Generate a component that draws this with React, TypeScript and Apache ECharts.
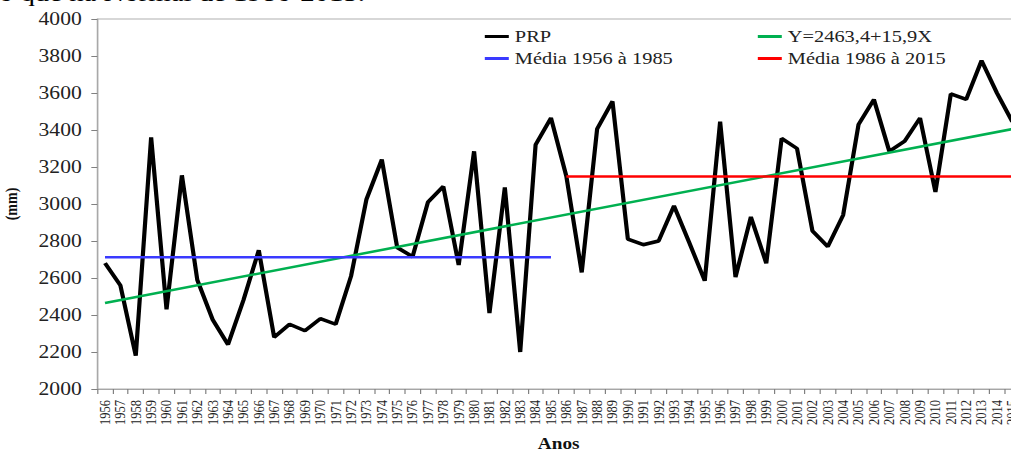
import React, { useEffect, useRef } from "react";
import * as echarts from "echarts";

// Categories (years)
const years: string[] = [
  "1956", "1957", "1958", "1959", "1960", "1961", "1962", "1963", "1964", "1965",
  "1966", "1967", "1968", "1969", "1970", "1971", "1972", "1973", "1974", "1975",
  "1976", "1977", "1978", "1979", "1980", "1981", "1982", "1983", "1984", "1985",
  "1986", "1987", "1988", "1989", "1990", "1991", "1992", "1993", "1994", "1995",
  "1996", "1997", "1998", "1999", "2000", "2001", "2002", "2003", "2004", "2005",
  "2006", "2007", "2008", "2009", "2010", "2011", "2012", "2013", "2014", "2015",
];

// Annual precipitation PRP (mm)
const prp: number[] = [
  2680, 2560, 2180, 3360, 2430, 3155, 2590, 2375, 2240, 2480,
  2750, 2280, 2350, 2315, 2380, 2350, 2610, 3025, 3240, 2765,
  2715, 3010, 3095, 2670, 3285, 2410, 3090, 2200, 3320, 3465,
  3150, 2630, 3405, 3555, 2810, 2780, 2800, 2990, 2790, 2585,
  3445, 2605, 2930, 2680, 3355, 3300, 2855, 2770, 2940, 3430,
  3565, 3285, 3340, 3465, 3065, 3595, 3565, 3775, 3600, 3445,
];

// Trend line end points (Y=2463,4+15,9X)
const trendYears: string[] = ["1956", "2015"];
const trendValues: number[] = [2465, 3405];

// Period means
const mean1Years: string[] = ["1956", "1985"];
const mean1Values: number[] = [2712, 2712];
const mean2Years: string[] = ["1986", "2015"];
const mean2Values: number[] = [3148, 3148];

const seriesNames: string[] = ["PRP", "Y=2463,4+15,9X", "Média 1956 à 1985", "Média 1986 à 2015"];

const SCALE_X = 1.2;
const W = 1011 / SCALE_X;
const H = 450;
const SERIF = "'Liberation Serif', 'Times New Roman', serif";

export default function App() {
  const ref = useRef<HTMLDivElement>(null);

  useEffect(() => {
    if (!ref.current) return;
    const chart = echarts.init(ref.current, null, { renderer: "svg", width: W, height: H });
    const pairs = (xs: string[], vs: number[]) => xs.map((x, i) => [x, vs[i]]);
    const legendText = { fontFamily: SERIF, fontSize: 17, color: "#222" };
    const mkLegend = (name: string, left: number, top: number) => ({
      data: [name],
      left,
      top,
      padding: 0,
      icon: "rect",
      itemWidth: 20,
      itemHeight: 3,
      selectedMode: false,
      textStyle: legendText,
    });

    chart.setOption({
      animation: false,
      backgroundColor: "#fff",
      graphic: [
        {
          type: "text",
          left: -1,
          top: -19,
          style: {
            text: "o que na Normal de 1986-2015.",
            font: "24px 'Liberation Serif', 'Times New Roman', serif",
            fill: "#000",
          },
        },
      ],
      legend: [
        mkLegend(seriesNames[0], 404, 28),
        mkLegend(seriesNames[1], 631.5, 28),
        mkLegend(seriesNames[2], 404, 50),
        mkLegend(seriesNames[3], 631.5, 50),
      ],
      grid: {
        left: 81.1,
        right: -7.5,
        top: 19,
        bottom: 61,
        outerBoundsMode: "none",
        containLabel: false,
        show: true,
        borderColor: "#b0b0b0",
        borderWidth: 1,
        backgroundColor: "transparent",
      },
      xAxis: {
        type: "category",
        data: years,
        boundaryGap: true,
        name: "Anos",
        nameLocation: "middle",
        nameGap: 47,
        nameTextStyle: { fontFamily: SERIF, fontSize: 16, fontWeight: "bold", color: "#111" },
        axisLine: { lineStyle: { color: "#a6a6a6", width: 1 } },
        axisTick: { show: true, length: 5, alignWithLabel: false, interval: 0, lineStyle: { color: "#808080" } },
        axisLabel: {
          interval: 0,
          rotate: 90,
          margin: 11,
          fontFamily: SERIF,
          fontSize: 12.5,
          color: "#222",
        },
        splitLine: { show: false },
      },
      yAxis: {
        type: "value",
        min: 2000,
        max: 4000,
        interval: 200,
        name: "(mm)",
        nameLocation: "middle",
        nameRotate: 90,
        nameGap: 65,
        nameTextStyle: { fontFamily: SERIF, fontSize: 14, fontWeight: "bold", color: "#111" },
        axisLine: { show: true, lineStyle: { color: "#a6a6a6", width: 1 } },
        axisTick: { show: true, length: 5, lineStyle: { color: "#808080" } },
        axisLabel: {
          margin: 13,
          fontFamily: SERIF,
          fontSize: 18,
          color: "#222",
          formatter: (v: number) => String(v),
        },
        splitLine: { show: false },
      },
      series: [
        {
          name: seriesNames[0],
          type: "line",
          data: prp,
          symbol: "none",
          color: "#000",
          lineStyle: { color: "#000", width: 3.5 },
          z: 2,
        },
        {
          name: seriesNames[1],
          type: "line",
          data: pairs(trendYears, trendValues),
          symbol: "none",
          color: "#00b050",
          lineStyle: { color: "#00b050", width: 2.5 },
          z: 3,
        },
        {
          name: seriesNames[2],
          type: "line",
          data: pairs(mean1Years, mean1Values),
          symbol: "none",
          color: "#3a3aff",
          lineStyle: { color: "#3a3aff", width: 2.5 },
          z: 3,
        },
        {
          name: seriesNames[3],
          type: "line",
          data: pairs(mean2Years, mean2Values),
          symbol: "none",
          color: "#ff0000",
          lineStyle: { color: "#ff0000", width: 2.5 },
          z: 3,
        },
      ],
    });
    return () => chart.dispose();
  }, []);

  return (
    <div
      ref={ref}
      style={{
        position: "fixed",
        left: 0,
        top: 0,
        width: W,
        height: H,
        transform: `scaleX(${SCALE_X})`,
        transformOrigin: "0 0",
        background: "#fff",
      }}
    />
  );
}
